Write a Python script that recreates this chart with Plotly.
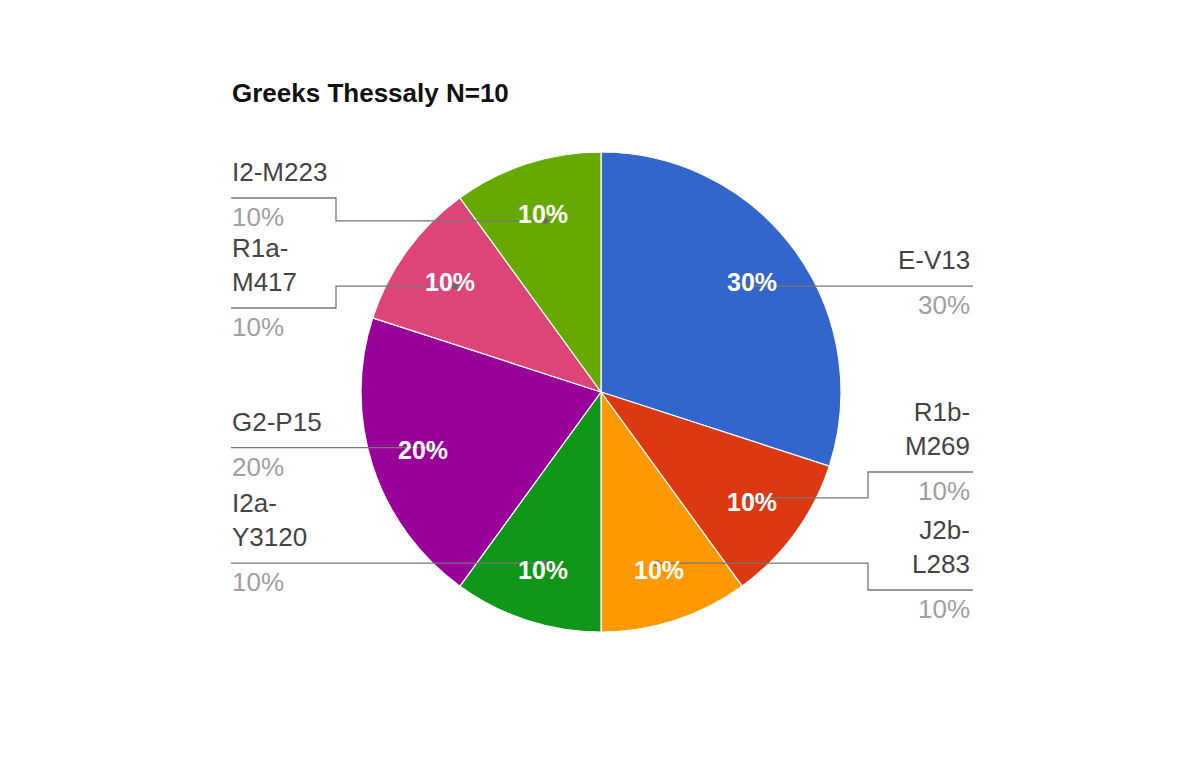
import math
import plotly.graph_objects as go

# ---- data ----
haplogroups = ["E-V13", "R1b-M269", "J2b-L283", "I2a-Y3120", "G2-P15", "R1a-M417", "I2-M223"]
display_names = ["E-V13", "R1b-<br>M269", "J2b-<br>L283", "I2a-<br>Y3120", "G2-P15", "R1a-<br>M417", "I2-M223"]
counts = [3, 1, 1, 1, 2, 1, 1]
colors = ["#3366cc", "#dc3912", "#ff9900", "#109618", "#990099", "#dd4477", "#66aa00"]
title_text = "Greeks Thessaly N=10"

# ---- layout parameters (pixels) ----
W, H = 1200, 780
CX, CY, R = 601, 392, 240
TEXT_FRAC = 0.78      # radius fraction for inside percent labels
DOT_FRAC = 0.75       # radius fraction for leader line start
LEFT_X, RIGHT_X = 231, 973
LEFT_ELBOW, RIGHT_ELBOW = 336, 868
# label line y (None: straight at the anchor height)
label_line_y = [None, 472, 590, None, None, 308, 198]
FONT = "Arial, Liberation Sans, sans-serif"
FS = 26
FS_IN = 25


def px(x, y):
    return x / W, 1 - y / H


total = sum(counts)
pcts = [round(100 * c / total) for c in counts]

fig = go.Figure(go.Pie(
    labels=haplogroups, values=counts, sort=False, direction="clockwise",
    rotation=0, textinfo="none", hoverinfo="label+percent",
    marker=dict(colors=colors, line=dict(color="white", width=1.2)),
    domain=dict(x=[(CX - R) / W, (CX + R) / W], y=[1 - (CY + R) / H, 1 - (CY - R) / H]),
    showlegend=False,
))

annotations = []
shapes = []
cum = 0
for i, c in enumerate(counts):
    mid = (cum + c / 2) / total * 2 * math.pi
    cum += c
    sx, sy = math.sin(mid), -math.cos(mid)
    # inside percent label
    tx, ty = CX + TEXT_FRAC * R * sx, CY + TEXT_FRAC * R * sy
    X, Y = px(tx, ty)
    annotations.append(dict(x=X, y=Y, xref="paper", yref="paper", text=f"<b>{pcts[i]}%</b>",
                            showarrow=False, xanchor="center", yanchor="middle",
                            font=dict(family=FONT, size=FS_IN, color="white")))
    # leader line
    ax, ay = CX + DOT_FRAC * R * sx, CY + DOT_FRAC * R * sy
    right = sx > 0
    ly = label_line_y[i] if label_line_y[i] is not None else ay
    endx = RIGHT_X if right else LEFT_X
    elbow = RIGHT_ELBOW if right else LEFT_ELBOW
    pts = [(ax, ay)]
    if abs(ly - ay) > 1:
        pts += [(elbow, ay), (elbow, ly)]
    pts.append((endx, ly))
    path = "M " + " L ".join(f"{px(a, b)[0]},{px(a, b)[1]}" for a, b in pts)
    shapes.append(dict(type="path", path=path, xref="paper", yref="paper",
                       line=dict(color="#777777", width=1.3), layer="above"))
    d = 3
    x0, y0 = px(ax - d, ay - d)
    x1, y1 = px(ax + d, ay + d)
    shapes.append(dict(type="circle", xref="paper", yref="paper", x0=x0, y0=y0, x1=x1, y1=y1,
                       fillcolor="#666666", line=dict(width=0), layer="above"))
    # outside name & percent
    anchor = "right" if right else "left"
    lx = RIGHT_X - 1 if right else LEFT_X - 1
    X, Y = px(lx, ly - 9)
    annotations.append(dict(x=X, y=Y, xref="paper", yref="paper", text=display_names[i],
                            showarrow=False, xanchor=anchor, yanchor="bottom", align=anchor,
                            font=dict(family=FONT, size=FS, color="#444444")))
    X, Y = px(lx, ly + 2)
    annotations.append(dict(x=X, y=Y, xref="paper", yref="paper", text=f"{pcts[i]}%",
                            showarrow=False, xanchor=anchor, yanchor="top", align=anchor,
                            font=dict(family=FONT, size=FS, color="#a0a0a0")))

X, Y = px(230, 93)
annotations.append(dict(x=X, y=Y, xref="paper", yref="paper", text=f"<b>{title_text}</b>",
                        showarrow=False, xanchor="left", yanchor="middle",
                        font=dict(family=FONT, size=26, color="#111111")))

fig.update_layout(width=W, height=H, margin=dict(l=0, r=0, t=0, b=0),
                  paper_bgcolor="white", plot_bgcolor="white",
                  annotations=annotations, shapes=shapes)
fig.write_html("out.html", config={"displayModeBar": False},
               post_script="document.body.style.margin='0';")
